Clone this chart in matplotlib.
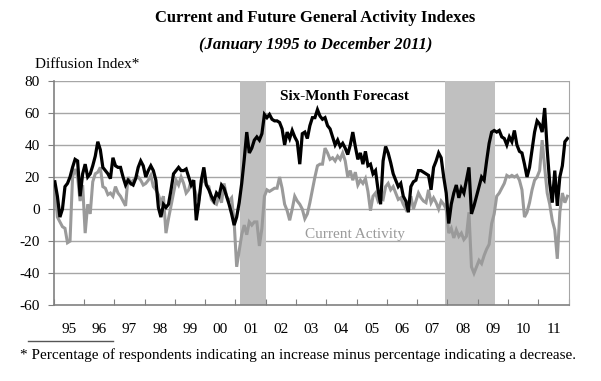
import numpy as np
import matplotlib
matplotlib.use("Agg")
import matplotlib.pyplot as plt

# Monthly values, Jan 1995 .. Dec 2011 (one list per year)
forecast = [
    [17, 8, -5, 0, 14, 16, 20, 26, 31, 30, 8, 22],      # 1995
    [28, 20, 22, 27, 33, 42, 37, 26, 24, 22, 19, 32],   # 1996
    [27, 26, 26, 20, 15, 18, 16, 15, 19, 26, 30, 27],   # 1997
    [20, 24, 27, 24, 18, 1, -5, 3, 1, 3, 12, 22],       # 1998
    [24, 26, 24, 24, 25, 20, 15, 18, -7, 4, 18, 26],    # 1999
    [15, 12, 8, 5, 10, 8, 15, 13, 8, 3, -3, -10],       # 2000
    [-5, 4, 16, 31, 48, 35, 38, 43, 45, 43, 47, 59],    # 2001
    [57, 59, 56, 55, 55, 54, 50, 40, 48, 44, 49, 45],   # 2002
    [42, 28, 47, 48, 44, 52, 57, 57, 62, 58, 56, 57],   # 2003
    [52, 50, 45, 40, 43, 39, 41, 38, 34, 40, 48, 39],   # 2004
    [31, 35, 28, 36, 27, 28, 22, 24, 12, 3, 30, 39],    # 2005
    [35, 29, 22, 18, 14, 16, 8, 5, -2, 14, 17, 18],     # 2006
    [24, 24, 23, 22, 21, 12, 26, 30, 35, 32, 20, 10],   # 2007
    [-9, 3, 10, 15, 7, 13, 10, 18, 26, -3, 2, 8],       # 2008
    [14, 20, 18, 30, 41, 48, 49, 48, 49, 45, 44, 40],   # 2009
    [45, 42, 49, 40, 36, 35, 28, 20, 26, 37, 48, 55],   # 2010
    [53, 48, 63, 37, 16, 4, 24, 2, 20, 27, 42, 44],     # 2011
]
current = [
    [14, -5, -8, -11, -12, -21, -20, 20, 25, 20, 5, 15],    # 1995
    [-15, 3, -3, 17, 22, 23, 26, 14, 13, 9, 10, 8],         # 1996
    [14, 10, 8, 5, 2, 20, 16, 18, 19, 20, 18, 15],          # 1997
    [16, 18, 21, 14, 12, 9, 4, 8, -15, -6, 2, 10],          # 1998
    [18, 15, 20, 16, 10, 12, 18, 14, 9, 5, 16, 19],         # 1999
    [15, 14, 6, 4, 3, 8, 4, 16, 8, 5, 7, -8],               # 2000
    [-36, -26, -16, -10, -16, -8, -10, -8, -8, -23, -12, 8],# 2001
    [12, 11, 12, 13, 13, 20, 13, 3, -1, -7, 0, 8],          # 2002
    [5, 3, 0, -6, -3, 4, 12, 20, 27, 28, 28, 38],           # 2003
    [35, 31, 32, 30, 33, 31, 35, 30, 20, 24, 18, 23],       # 2004
    [15, 18, 16, 19, 11, -1, 8, 10, 5, 7, 6, 14],           # 2005
    [16, 12, 14, 10, 6, 7, 3, 0, 4, 8, 0, 5],               # 2006
    [10, 7, 5, 4, 12, 4, 7, 4, 0, 5, 3, 0],                 # 2007
    [-15, -12, -18, -13, -17, -15, -19, -17, -2, -36, -40, -36],  # 2008
    [-32, -34, -29, -25, -22, -9, -3, 8, 10, 13, 16, 21],   # 2009
    [20, 21, 20, 21, 18, 12, -5, -2, 4, 12, 18, 20],        # 2010
    [24, 43, 26, 10, 3, -7, -13, -31, -2, 10, 4, 8],        # 2011
]
years = list(range(1995, 2012))
year_labels = ["95", "96", "97", "98", "99", "00", "01", "02", "03", "04",
               "05", "06", "07", "08", "09", "10", "11"]
recessions = [(2001 + 2/12, 2002.0), (2007 + 11/12, 2009 + 7/12)]

fc = np.array(forecast).ravel()
cur = np.array(current).ravel()
t = 1995 + (np.arange(len(fc)) + 0.5) / 12

plt.rcParams['font.family'] = ['Liberation Serif', 'DejaVu Serif']

fig = plt.figure(figsize=(6.01, 3.81), dpi=100)
ax = fig.add_axes([0.0892, 0.1987, 0.8570, 0.5893])

for a, b in recessions:
    ax.axvspan(a, b, color='#c0c0c0', lw=0, zorder=1)

for v in range(-40, 81, 20):
    ax.axhline(v, color='#a6a6a6', lw=1.0, zorder=0.5)

ax.plot(t, cur, color='#9a9a9a', lw=2.2, zorder=2, solid_joinstyle='miter')
ax.plot(t, fc, color='black', lw=2.3, zorder=3, solid_joinstyle='miter')

ax.set_xlim(1995, 2012)
ax.set_ylim(-60, 80)

ax.set_yticks(range(-60, 81, 20))
ax.set_yticklabels([str(v) for v in range(-60, 81, 20)], fontsize=11)
ax.tick_params(axis='y', direction='out', length=4, color='#808080', pad=6)

ax.set_xticks(range(1995, 2013))
ax.set_xticklabels([])
ax.set_xticks([y + 0.5 for y in years], minor=True)
ax.set_xticklabels(year_labels, minor=True, fontsize=11)
ax.tick_params(axis='x', which='major', direction='in', length=4, color='#808080')
ax.tick_params(axis='x', which='minor', length=0, pad=13)

for s in ['left', 'bottom']:
    ax.spines[s].set_color('#808080')
    ax.spines[s].set_linewidth(1.2)
ax.spines['right'].set_color('#a6a6a6')
ax.spines['top'].set_visible(False)

ax.text(2004.6, 70, "Six-Month Forecast", fontsize=11, fontweight='bold',
        ha='center', va='center', zorder=4)
ax.text(2004.95, -16, "Current Activity", fontsize=11, color='#9a9a9a',
        ha='center', va='center', zorder=4)

fig.text(0.525, 1 - 18/381, "Current and Future General Activity Indexes",
         fontsize=12, fontweight='bold', ha='center', va='center')
fig.text(0.525, 1 - 45/381, "(January 1995 to December 2011)",
         fontsize=12, fontweight='bold', style='italic', ha='center', va='center')
fig.text(35/601, 1 - 64/381, "Diffusion Index*", fontsize=11, ha='left', va='center')
fig.text(20/601, 1 - 355/381,
         "* Percentage of respondents indicating an increase minus percentage indicating a decrease.",
         fontsize=11, ha='left', va='center')
fig.add_artist(plt.Line2D([28/601, 113/601], [1 - 341/381, 1 - 341/381],
                          color='#555555', lw=1))

fig.savefig("out.png", dpi=100)
